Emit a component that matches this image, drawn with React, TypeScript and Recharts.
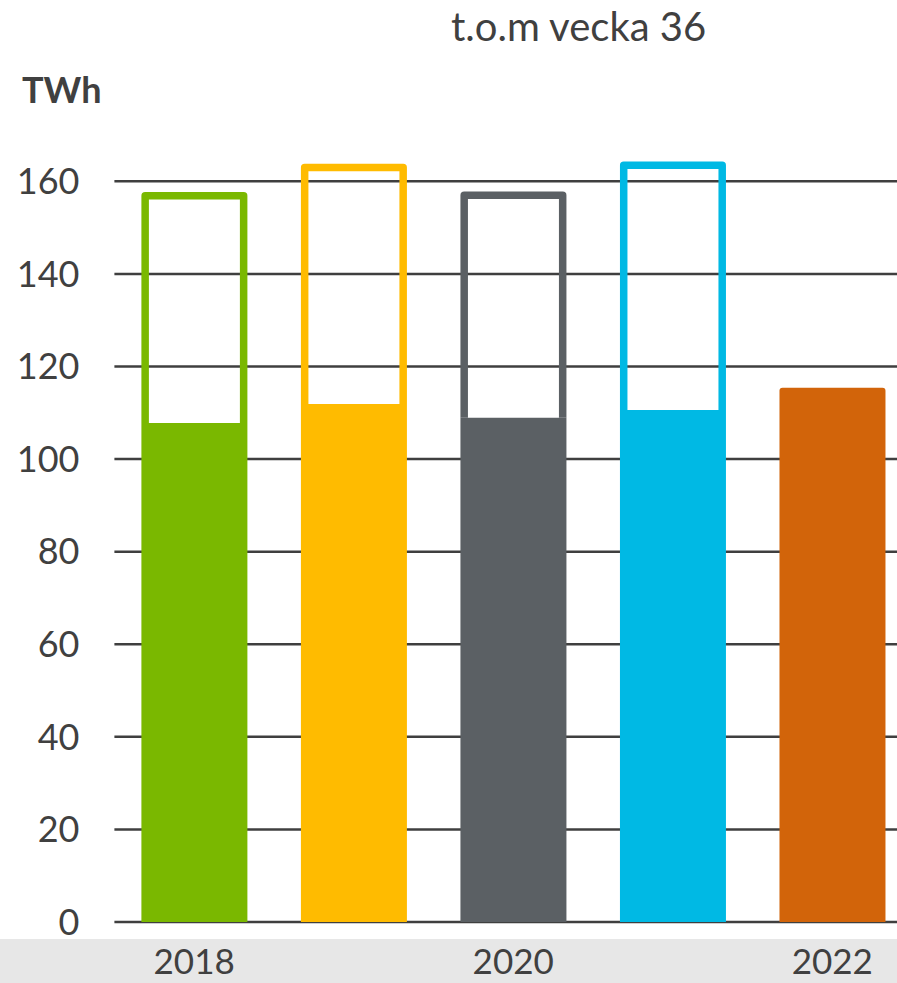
import React from "react";
import { Bar, BarChart, CartesianGrid, Cell, XAxis, YAxis } from "recharts";

const years = ["2018", "2019", "2020", "2021", "2022"];
// value through week 36 (filled part)
const toWeek36 = [107.8, 111.9, 108.9, 110.6, 115.4];
// full-year total (outlined part), none yet for 2022
const fullYear = [157.7, 163.8, 157.8, 164.3, null];
const yTicks = [0, 20, 40, 60, 80, 100, 120, 140, 160];

const colors = ["#7ab800", "#ffbb00", "#5b6064", "#00b9e4", "#d2640a"];
const textColor = "#404040";
const font = "Lato, 'Open Sans', sans-serif";
const strokeW = 7.5;

const data = years.map((year, i) => ({
  year,
  filled: toWeek36[i],
  rest: fullYear[i] == null ? null : (fullYear[i] as number) - toWeek36[i],
}));

const OutlineBar = (props: any) => {
  const { x, y, width, height, index } = props;
  if (!height || height <= 0) return null;
  const h = strokeW / 2;
  const d = `M${x + h},${y + height} L${x + h},${y + h} L${x + width - h},${y + h} L${x + width - h},${y + height}`;
  return (
    <path
      d={d}
      fill="none"
      stroke={colors[index]}
      strokeWidth={strokeW}
      strokeLinejoin="round"
    />
  );
};

export default function App() {
  return (
    <div
      style={{
        position: "absolute",
        left: 0,
        top: 0,
        width: 897,
        height: 983,
        overflow: "hidden",
        background: "#fff",
        fontFamily: font,
      }}
    >
      <div style={{ position: "absolute", left: 0, top: 939, width: 897, height: 44, background: "#e7e7e7" }} />
      <div
        style={{
          position: "absolute",
          left: 451,
          top: 2,
          fontSize: 40,
          color: textColor,
          whiteSpace: "nowrap",
        }}
      >
        t.o.m vecka 36
      </div>
      <div
        style={{
          position: "absolute",
          left: 22,
          top: 67,
          fontSize: 36,
          fontWeight: 700,
          color: textColor,
        }}
      >
        TWh
      </div>
      <div style={{ position: "absolute", left: 0, top: 0 }}>
        <BarChart
          width={912}
          height={983}
          data={data}
          margin={{ top: 88.7, right: 0, bottom: 0, left: 0 }}
          barSize={106}
        >
          <CartesianGrid
            horizontal
            vertical={false}
            horizontalValues={yTicks}
            stroke="#3f3f3f"
            strokeWidth={2.5}
          />
          <XAxis
            dataKey="year"
            interval={1}
            axisLine={false}
            tickLine={false}
            tickSize={0}
            tickMargin={27}
            height={61}
            tick={{ fontSize: 35, fill: textColor, fontFamily: font }}
          />
          <YAxis
            domain={[0, 180]}
            ticks={yTicks}
            axisLine={false}
            tickLine={false}
            tickSize={0}
            tickMargin={35}
            width={114.4}
            tick={{ fontSize: 36, fill: textColor, fontFamily: font }}
          />
          <Bar dataKey="filled" stackId="a" isAnimationActive={false}>
            {data.map((d, i) => (
              <Cell key={d.year} fill={colors[i]} radius={i === 4 ? ([3, 3, 0, 0] as any) : 0} />
            ))}
          </Bar>
          <Bar dataKey="rest" stackId="a" isAnimationActive={false} shape={<OutlineBar />} />
        </BarChart>
      </div>
    </div>
  );
}
